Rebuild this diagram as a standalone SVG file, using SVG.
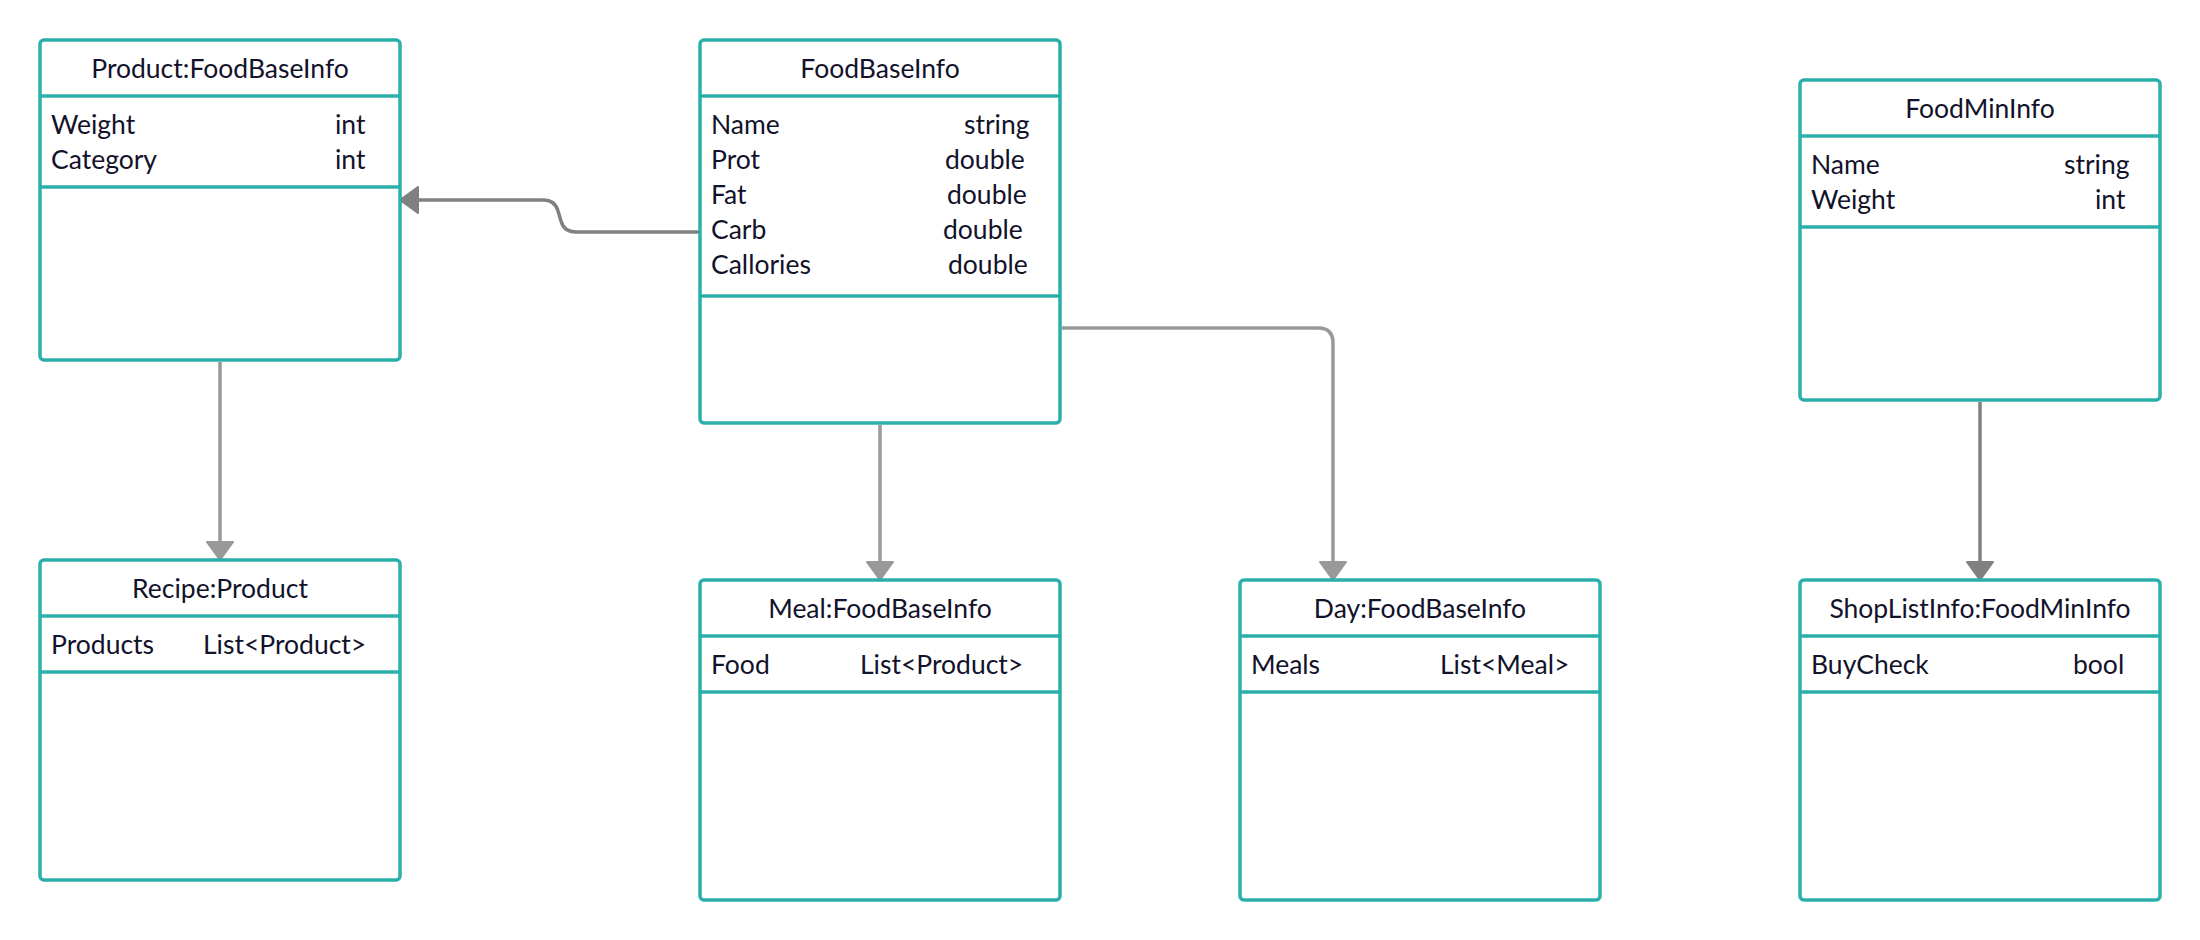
<svg xmlns="http://www.w3.org/2000/svg" width="2200" height="940" viewBox="0 0 2200 940">
<style>
.box{fill:#fff;stroke:#2aafab;stroke-width:3.5}
.sep{stroke:#2aafab;stroke-width:3.5}
.t{font-family:Lato,"Open Sans",sans-serif;font-size:26.5px;fill:#12122b}
.c{text-anchor:middle}
.l1{fill:none;stroke:#999;stroke-width:3.5}
.l2{fill:none;stroke:#808080;stroke-width:3.5}
</style>
<defs>
<marker id="a1" viewBox="0 0 20 28" refX="19" refY="14" markerWidth="20" markerHeight="28" markerUnits="userSpaceOnUse" orient="auto">
<path d="M1,1 L19,14 L1,27 z" fill="#999" stroke="#999" stroke-width="2" stroke-linejoin="round"/>
</marker>
<marker id="a2" viewBox="0 0 20 28" refX="19" refY="14" markerWidth="20" markerHeight="28" markerUnits="userSpaceOnUse" orient="auto">
<path d="M1,1 L19,14 L1,27 z" fill="#808080" stroke="#808080" stroke-width="2" stroke-linejoin="round"/>
</marker>
</defs>
<rect width="2200" height="940" fill="#fff"/>
<g id="connectors">
<path class="l2" d="M700,232 H576 Q564,232 561,221 L558,211 Q555,200 543,200 H400" marker-end="url(#a2)"/>
<path class="l1" d="M220,362 V560" marker-end="url(#a1)"/>
<path class="l1" d="M880,425 V580" marker-end="url(#a1)"/>
<path class="l1" d="M1062,328 H1318 Q1333,328 1333,343 V580" marker-end="url(#a1)"/>
<path class="l2" d="M1980,402 V580" marker-end="url(#a2)"/>
</g>
<g id="product">
<rect class="box" x="40" y="40" width="360" height="320" rx="4"/>
<line class="sep" x1="40" y1="96" x2="400" y2="96"/>
<line class="sep" x1="40" y1="187" x2="400" y2="187"/>
<text class="t c" x="220" y="78">Product:FoodBaseInfo</text>
<text class="t" x="51" y="134">Weight</text>
<text class="t" x="335" y="134">int</text>
<text class="t" x="51" y="169">Category</text>
<text class="t" x="335" y="169">int</text>
</g>
<g id="foodbaseinfo">
<rect class="box" x="700" y="40" width="360" height="383" rx="4"/>
<line class="sep" x1="700" y1="96" x2="1060" y2="96"/>
<line class="sep" x1="700" y1="296" x2="1060" y2="296"/>
<text class="t c" x="880" y="78">FoodBaseInfo</text>
<text class="t" x="711" y="134">Name</text>
<text class="t" x="964" y="134">string</text>
<text class="t" x="711" y="169">Prot</text>
<text class="t" x="945" y="169">double</text>
<text class="t" x="711" y="204">Fat</text>
<text class="t" x="947" y="204">double</text>
<text class="t" x="711" y="239">Carb</text>
<text class="t" x="943" y="239">double</text>
<text class="t" x="711" y="274">Callories</text>
<text class="t" x="948" y="274">double</text>
</g>
<g id="foodmininfo">
<rect class="box" x="1800" y="80" width="360" height="320" rx="4"/>
<line class="sep" x1="1800" y1="136" x2="2160" y2="136"/>
<line class="sep" x1="1800" y1="227" x2="2160" y2="227"/>
<text class="t c" x="1980" y="118">FoodMinInfo</text>
<text class="t" x="1811" y="174">Name</text>
<text class="t" x="2064" y="174">string</text>
<text class="t" x="1811" y="209">Weight</text>
<text class="t" x="2095" y="209">int</text>
</g>
<g id="recipe">
<rect class="box" x="40" y="560" width="360" height="320" rx="4"/>
<line class="sep" x1="40" y1="616" x2="400" y2="616"/>
<line class="sep" x1="40" y1="672" x2="400" y2="672"/>
<text class="t c" x="220" y="598">Recipe:Product</text>
<text class="t" x="51" y="654">Products</text>
<text class="t" x="203" y="654">List&lt;Product&gt;</text>
</g>
<g id="meal">
<rect class="box" x="700" y="580" width="360" height="320" rx="4"/>
<line class="sep" x1="700" y1="636" x2="1060" y2="636"/>
<line class="sep" x1="700" y1="692" x2="1060" y2="692"/>
<text class="t c" x="880" y="618">Meal:FoodBaseInfo</text>
<text class="t" x="711" y="674">Food</text>
<text class="t" x="860" y="674">List&lt;Product&gt;</text>
</g>
<g id="day">
<rect class="box" x="1240" y="580" width="360" height="320" rx="4"/>
<line class="sep" x1="1240" y1="636" x2="1600" y2="636"/>
<line class="sep" x1="1240" y1="692" x2="1600" y2="692"/>
<text class="t c" x="1420" y="618">Day:FoodBaseInfo</text>
<text class="t" x="1251" y="674">Meals</text>
<text class="t" x="1440" y="674">List&lt;Meal&gt;</text>
</g>
<g id="shoplistinfo">
<rect class="box" x="1800" y="580" width="360" height="320" rx="4"/>
<line class="sep" x1="1800" y1="636" x2="2160" y2="636"/>
<line class="sep" x1="1800" y1="692" x2="2160" y2="692"/>
<text class="t c" x="1980" y="618">ShopListInfo:FoodMinInfo</text>
<text class="t" x="1811" y="674">BuyCheck</text>
<text class="t" x="2073" y="674">bool</text>
</g>
</svg>
